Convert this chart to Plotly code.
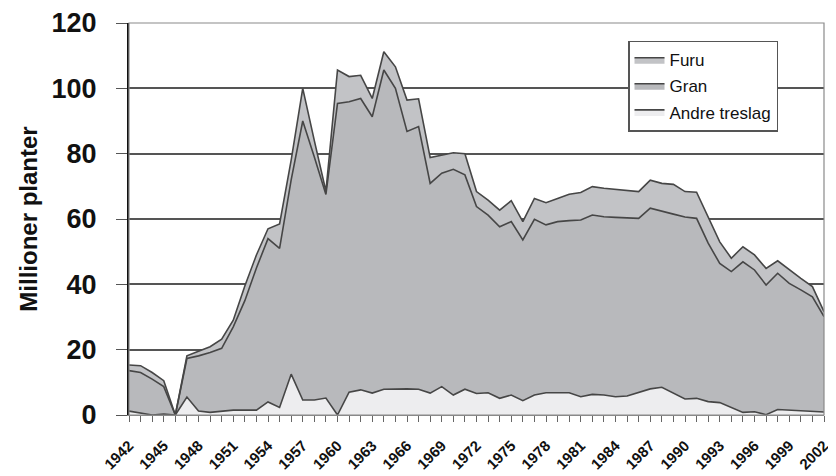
import plotly.graph_objects as go

years = list(range(1942, 2003))

# cumulative tops (million plants)
total = [15.3, 15.1, 13.0, 10.5, 0.0, 18.1, 19.5, 20.9, 23.2, 29.0,
         39.5, 49.0, 57.0, 58.5, 78.0, 100.0, 84.0, 68.5, 105.6, 103.6,
         104.0, 96.9, 111.2, 106.6, 96.4, 96.8, 78.8, 79.6, 80.3, 80.0,
         68.4, 65.8, 62.7, 65.6, 59.2, 66.3, 65.0, 66.3, 67.6, 68.1,
         69.9, 69.4, 69.1, 68.7, 68.4, 71.9, 70.9, 70.6, 68.4, 68.2,
         60.7, 53.0, 48.0, 51.5, 49.0, 44.9, 47.2, 44.4, 41.8, 39.3, 31.6]
andre_gran = [13.6, 13.0, 11.0, 8.7, 0.0, 17.3, 18.1, 19.1, 20.4, 27.0,
              35.0, 45.0, 54.0, 51.0, 72.0, 90.0, 79.0, 67.5, 95.4, 95.9,
              96.9, 91.3, 105.6, 100.0, 86.8, 88.3, 70.9, 74.0, 75.2, 73.5,
              63.8, 61.2, 57.6, 59.2, 53.6, 59.9, 58.2, 59.2, 59.5, 59.7,
              61.2, 60.7, 60.5, 60.3, 60.2, 63.3, 62.3, 61.5, 60.6, 60.2,
              52.6, 46.4, 43.9, 46.9, 44.4, 39.8, 43.4, 40.3, 38.3, 36.2, 30.1]
andre = [1.2, 0.5, 0.0, 0.3, 0.0, 5.5, 1.2, 0.8, 1.2, 1.5,
         1.5, 1.5, 4.0, 2.3, 12.5, 4.6, 4.6, 5.2, 0.0, 7.0,
         7.7, 6.7, 7.9, 8.0, 8.0, 7.9, 6.7, 8.7, 6.1, 7.9,
         6.6, 6.8, 5.1, 6.1, 4.4, 6.1, 6.8, 6.8, 6.8, 5.6,
         6.3, 6.1, 5.6, 5.8, 6.8, 8.0, 8.5, 6.7, 4.9, 5.1,
         4.1, 3.8, 2.3, 0.8, 1.0, 0.1, 1.7, 1.5, 1.5, 1.3, 0.9]

gran = [round(m - a, 2) for m, a in zip(andre_gran, andre)]
furu = [round(t - m, 2) for t, m in zip(total, andre_gran)]

tick_years = list(range(1942, 2003, 3))
tick_labels = [str(y) for y in tick_years]
y_ticks = [0, 20, 40, 60, 80, 100, 120]

line_col = "#464646"
fig = go.Figure()
fig.add_trace(go.Scatter(x=years, y=andre, name="Andre treslag", stackgroup="one",
                         legendgroup="a", legendrank=3, mode="lines",
                         line=dict(color=line_col, width=1.6), fillcolor="#ededef"))
fig.add_trace(go.Scatter(x=years, y=gran, name="Gran", stackgroup="one",
                         legendgroup="g", legendrank=2, mode="lines",
                         line=dict(color=line_col, width=1.6), fillcolor="#b8b9bc"))
fig.add_trace(go.Scatter(x=years, y=furu, name="Furu", stackgroup="one",
                         legendgroup="f", legendrank=1, mode="lines",
                         line=dict(color=line_col, width=1.6), fillcolor="#c2c3c6"))

# page body has an 8px margin: figure is sized to fit the 836x476 window
fig.update_layout(
    width=828, height=468,
    margin=dict(l=121, r=12, t=15, b=61),
    paper_bgcolor="white", plot_bgcolor="white",
    font=dict(family="Liberation Sans, Arial, sans-serif", color="#111"),
    showlegend=True,
    legend=dict(x=0.718, y=0.955, xanchor="left", yanchor="top",
                traceorder="grouped", bgcolor="white",
                bordercolor="#555", borderwidth=1.5,
                font=dict(size=17, color="#111"), itemwidth=30,
                tracegroupgap=1),
    shapes=[dict(type="rect", xref="paper", yref="paper", x0=0, x1=1, y0=0, y1=1,
                 line=dict(color="#8a8a8a", width=1.2), layer="above")],
)
fig.update_xaxes(range=[1942, 2002], tickmode="array", tickvals=tick_years,
                 ticktext=tick_labels, tickangle=-45, automargin=False,
                 tickfont=dict(size=15, weight="bold", color="#111"),
                 ticks="outside", ticklen=6, tickcolor="#666",
                 ticklabelstandoff=9,
                 minor=dict(dtick=1, tick0=1942, ticks="outside", ticklen=6, tickcolor="#666"),
                 showgrid=False, showline=True, linecolor="#888", linewidth=1,
                 zeroline=False)
fig.update_yaxes(range=[0, 120], tickvals=y_ticks, automargin=False,
                 tickfont=dict(size=27, weight="bold", color="#111"),
                 ticks="outside", ticklen=11, tickcolor="#555",
                 ticklabelstandoff=14,
                 showgrid=True, gridcolor="#555555", gridwidth=1.5,
                 showline=True, linecolor="#111", linewidth=2,
                 zeroline=False,
                 title=dict(text="Millioner planter", standoff=7,
                            font=dict(size=24, weight="bold", color="#111")))
fig.write_html("out.html")
